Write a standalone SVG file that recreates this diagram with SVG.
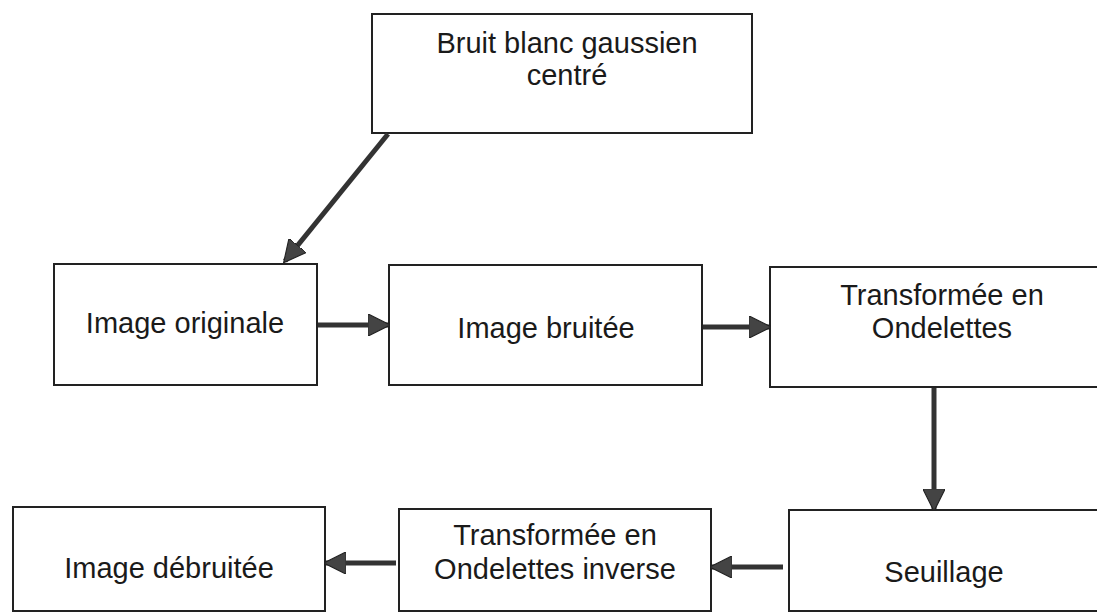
<svg xmlns="http://www.w3.org/2000/svg" width="1097" height="613" viewBox="0 0 1097 613">
<defs>
<style>
.box{fill:#fff;stroke:#222;stroke-width:2}
.t{font-family:"Liberation Sans",Arial,sans-serif;font-size:29px;fill:#1a1a1a;text-anchor:middle}
.c{stroke:#333;stroke-width:5;fill:none}
</style>
<marker id="ah" viewBox="0 0 10 10" refX="9" refY="5" markerWidth="4.5" markerHeight="4.5" orient="auto" markerUnits="strokeWidth">
<path d="M0,0 L10,5 L0,10 z" fill="#444" stroke="#222" stroke-width="0.5"/>
</marker>
</defs>
<rect width="1097" height="613" fill="#fff"/>
<g id="n-bruit"><rect class="box" x="372" y="14" width="380" height="119"/><text class="t" x="567" y="53">Bruit blanc gaussien</text><text class="t" x="567" y="85">centré</text></g>
<g id="n-orig"><rect class="box" x="54" y="264" width="263" height="121"/><text class="t" x="185" y="333">Image originale</text></g>
<g id="n-bruitee"><rect class="box" x="389" y="265" width="313" height="120"/><text class="t" x="546" y="338">Image bruitée</text></g>
<g id="n-tf"><rect class="box" x="770" y="267" width="345" height="120"/><text class="t" x="942" y="305">Transformée en</text><text class="t" x="942" y="338">Ondelettes</text></g>
<g id="n-seuil"><rect class="box" x="789" y="510" width="330" height="101"/><text class="t" x="944" y="582">Seuillage</text></g>
<g id="n-inv"><rect class="box" x="399" y="509" width="312" height="102"/><text class="t" x="555" y="545">Transformée en</text><text class="t" x="555" y="579">Ondelettes inverse</text></g>
<g id="n-debr"><rect class="box" x="13" y="507" width="312" height="104"/><text class="t" x="169" y="578">Image débruitée</text></g>
<g id="connectors">
<line class="c" x1="388" y1="134" x2="285" y2="261" marker-end="url(#ah)"/>
<line class="c" x1="318" y1="325" x2="388" y2="325" marker-end="url(#ah)"/>
<line class="c" x1="703" y1="327" x2="769" y2="327" marker-end="url(#ah)"/>
<line class="c" x1="934" y1="388" x2="934" y2="509" marker-end="url(#ah)"/>
<line class="c" x1="783" y1="567" x2="712" y2="567" marker-end="url(#ah)"/>
<line class="c" x1="396" y1="563" x2="326" y2="563" marker-end="url(#ah)"/>
</g>
</svg>
